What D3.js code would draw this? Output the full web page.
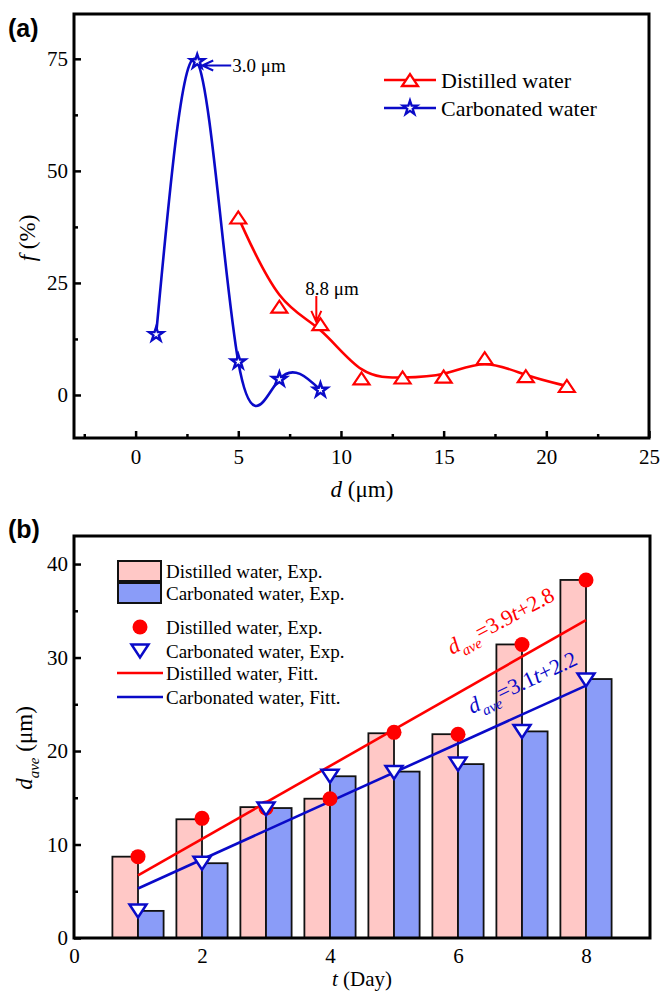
<!DOCTYPE html>
<html>
<head>
<meta charset="utf-8">
<script src="https://cdn.jsdelivr.net/npm/d3@7"></script>
<style>
body { margin: 0; background: #fff; }
text { font-family: "Liberation Serif", "Times New Roman", serif; fill: #000; }
</style>
</head>
<body>
<script>
// ---- panel (a): size distribution ----
var sizeDistilled = [5, 7, 9, 11, 13, 15, 17, 19, 21];
var freqDistilled = [39.6, 19.7, 15.8, 3.7, 3.9, 4.1, 8.2, 4.2, 2.0];
var sizeCarbonated = [1, 3, 5, 7, 9];
var freqCarbonated = [13.5, 74.4, 7.4, 3.5, 1.1];
var xTicksA = [0, 5, 10, 15, 20, 25];
var xMinorA = [-2.5, 2.5, 7.5, 12.5, 17.5, 22.5];
var yTicksA = [0, 25, 50, 75];
var yMinorA = [12.5, 37.5, 62.5];
var seriesNamesA = ["Distilled water", "Carbonated water"];

// ---- panel (b): average size vs time ----
var days = [1, 2, 3, 4, 5, 6, 7, 8];
var barDistilled = [8.7, 12.7, 14.0, 14.9, 21.9, 21.8, 31.4, 38.3];
var barCarbonated = [2.9, 8.0, 13.9, 17.3, 17.8, 18.6, 22.1, 27.7];
var dotDistilled = [8.7, 12.8, 13.9, 14.9, 22.0, 21.8, 31.4, 38.3];
var triCarbonated = [2.9, 8.0, 13.8, 17.3, 17.7, 18.6, 22.1, 27.6];
var fitDistilled = [3.9, 2.8];   // slope, intercept
var fitCarbonated = [3.1, 2.2];
var xTicksB = [0, 2, 4, 6, 8];
var yTicksB = [0, 10, 20, 30, 40];
var yMinorB = [5, 15, 25, 35];
var legendNamesB = ["Distilled water, Exp.", "Carbonated water, Exp.", "Distilled water, Exp.",
                    "Carbonated water, Exp.", "Distilled water, Fitt.", "Carbonated water, Fitt."];

var RED = "#ff0000", BLUE = "#0a0ac8", PINK = "#ffc8c6", LBLUE = "#8a9cf8";

var svg = d3.select("body").append("svg").attr("width", 663).attr("height", 992);

function styleAxis(g) {
  g.select(".domain").remove();
  g.selectAll(".tick line").attr("stroke", "#000").attr("stroke-width", 2.5);
  g.selectAll("text").attr("font-size", 21).attr("font-family", "Liberation Serif, serif");
}

function triPath(w, h, up) {
  var s = up ? 1 : -1;
  return "M" + (-w) + "," + (s * h / 2) + "L" + w + "," + (s * h / 2) + "L0," + (-s * h / 2) + "Z";
}

// ================= panel (a) =================
var xA = d3.scaleLinear().domain([-3, 25]).range([74, 649]);
var yA = d3.scaleLinear().domain([-9.6, 85]).range([438, 14]);

var gA = svg.append("g");

gA.append("g").attr("transform", "translate(0,438)")
  .call(d3.axisBottom(xA).tickValues(xTicksA).tickSize(-7).tickPadding(11))
  .call(styleAxis);
gA.append("g").attr("transform", "translate(0,438)")
  .call(d3.axisBottom(xA).tickValues(xMinorA).tickSize(-4).tickFormat(""))
  .call(styleAxis);
gA.append("g").attr("transform", "translate(74,0)")
  .call(d3.axisLeft(yA).tickValues(yTicksA).tickSize(-7).tickPadding(6))
  .call(styleAxis);
gA.append("g").attr("transform", "translate(74,0)")
  .call(d3.axisLeft(yA).tickValues(yMinorA).tickSize(-4).tickFormat(""))
  .call(styleAxis);

// distilled curve is a smoothed B-spline, carbonated is an interpolating spline
var redPts = sizeDistilled.map(function (d, i) { return [xA(d), yA(freqDistilled[i])]; });
var bluePts = sizeCarbonated.map(function (d, i) { return [xA(d), yA(freqCarbonated[i])]; });

gA.append("path").attr("d", d3.line().curve(d3.curveBasis)(redPts)).attr("fill", "none")
  .attr("stroke", RED).attr("stroke-width", 2.6);
gA.append("path").attr("d", d3.line().curve(d3.curveNatural)(bluePts)).attr("fill", "none")
  .attr("stroke", BLUE).attr("stroke-width", 2.6);

gA.selectAll("path.tri").data(redPts).enter().append("path").attr("class", "tri")
  .attr("transform", function (p) { return "translate(" + p + ")"; })
  .attr("d", triPath(8, 12, true))
  .attr("fill", "#fff").attr("stroke", RED).attr("stroke-width", 2.2);

var star = d3.symbol().type(d3.symbolStar).size(62);
gA.selectAll("path.star").data(bluePts).enter().append("path").attr("class", "star")
  .attr("transform", function (p) { return "translate(" + p + ")"; })
  .attr("d", star)
  .attr("fill", "#fff").attr("stroke", BLUE).attr("stroke-width", 2.4);

// annotations
var ann = gA.append("g");
var px = xA(3) + 5, py = yA(74.4) + 4;
ann.append("path").attr("d", "M" + (px + 29) + "," + py + "H" + px +
    "M" + (px + 11) + "," + (py - 5) + "L" + px + "," + py + "L" + (px + 11) + "," + (py + 5))
  .attr("fill", "none").attr("stroke", BLUE).attr("stroke-width", 2);
ann.append("text").attr("x", px + 30).attr("y", py).attr("dy", "0.35em")
  .attr("font-size", 19).text("3.0 μm");

var qx = xA(8.8), qy = yA(16.3);
ann.append("path").attr("d", "M" + qx + "," + (qy - 26) + "V" + qy +
    "M" + (qx - 5) + "," + (qy - 11) + "L" + qx + "," + qy + "L" + (qx + 5) + "," + (qy - 11))
  .attr("fill", "none").attr("stroke", RED).attr("stroke-width", 2);
ann.append("text").attr("x", qx - 11).attr("y", qy - 34).attr("dy", "0.35em")
  .attr("font-size", 19).text("8.8 μm");

// legend (a)
var legA = gA.append("g");
[RED, BLUE].forEach(function (c, i) {
  var ly = 80 + i * 28;
  legA.append("line").attr("x1", 384).attr("x2", 436).attr("y1", ly).attr("y2", ly)
    .attr("stroke", c).attr("stroke-width", 2.6);
  legA.append("path").attr("transform", "translate(410," + ly + ")")
    .attr("d", i === 0 ? triPath(8, 12, true) : star())
    .attr("fill", "#fff").attr("stroke", c).attr("stroke-width", 2.3);
  legA.append("text").attr("x", 441).attr("y", ly).attr("dy", "0.35em")
    .attr("font-size", 22).text(seriesNamesA[i]);
});

gA.append("rect").attr("x", 74).attr("y", 14).attr("width", 575).attr("height", 424)
  .attr("fill", "none").attr("stroke", "#000").attr("stroke-width", 3);

var tA = gA.append("text").attr("x", 362).attr("y", 497).attr("text-anchor", "middle").attr("font-size", 23);
tA.append("tspan").attr("font-style", "italic").text("d");
tA.append("tspan").text(" (μm)");
var fA = gA.append("text").attr("transform", "translate(35,238) rotate(-90)")
  .attr("text-anchor", "middle").attr("font-size", 23);
fA.append("tspan").attr("font-style", "italic").text("f");
fA.append("tspan").text(" (%)");

svg.append("text").attr("x", 8).attr("y", 37).attr("font-size", 25).attr("font-weight", "bold")
  .style("font-family", "Liberation Sans, Arial, sans-serif").text("(a)");

// ================= panel (b) =================
var xB = d3.scaleLinear().domain([0, 9]).range([74, 650]);
var yB = d3.scaleLinear().domain([0, 43]).range([938, 536]);
var gB = svg.append("g");

gB.append("g").attr("transform", "translate(0,938)")
  .call(d3.axisBottom(xB).tickValues(xTicksB).tickSize(0).tickPadding(10))
  .call(styleAxis);
gB.append("g").attr("transform", "translate(74,0)")
  .call(d3.axisLeft(yB).tickValues(yTicksB).tickSize(-7).tickPadding(6))
  .call(styleAxis);
gB.append("g").attr("transform", "translate(74,0)")
  .call(d3.axisLeft(yB).tickValues(yMinorB).tickSize(-4).tickFormat(""))
  .call(styleAxis);

var bw = xB(0.4) - xB(0);
gB.selectAll("rect.bd").data(days).enter().append("rect").attr("class", "bd")
  .attr("x", function (d) { return xB(d) - bw; })
  .attr("y", function (d, i) { return yB(barDistilled[i]); })
  .attr("width", bw)
  .attr("height", function (d, i) { return yB(0) - yB(barDistilled[i]); })
  .attr("fill", PINK).attr("stroke", "#111").attr("stroke-width", 1.8);
gB.selectAll("rect.bc").data(days).enter().append("rect").attr("class", "bc")
  .attr("x", function (d) { return xB(d); })
  .attr("y", function (d, i) { return yB(barCarbonated[i]); })
  .attr("width", bw)
  .attr("height", function (d, i) { return yB(0) - yB(barCarbonated[i]); })
  .attr("fill", LBLUE).attr("stroke", "#111").attr("stroke-width", 1.8);

// fit lines
[[fitDistilled, RED], [fitCarbonated, BLUE]].forEach(function (f) {
  var t0 = days[0], t1 = days[days.length - 1];
  gB.append("line")
    .attr("x1", xB(t0)).attr("y1", yB(f[0][0] * t0 + f[0][1]))
    .attr("x2", xB(t1)).attr("y2", yB(f[0][0] * t1 + f[0][1]))
    .attr("stroke", f[1]).attr("stroke-width", 2.6);
});

gB.selectAll("circle.dd").data(days).enter().append("circle").attr("class", "dd")
  .attr("cx", function (d) { return xB(d); })
  .attr("cy", function (d, i) { return yB(dotDistilled[i]); })
  .attr("r", 7.5).attr("fill", RED);
gB.selectAll("path.tc").data(days).enter().append("path").attr("class", "tc")
  .attr("transform", function (d, i) { return "translate(" + xB(d) + "," + yB(triCarbonated[i]) + ")"; })
  .attr("d", triPath(8.5, 13, false))
  .attr("fill", "#fff").attr("stroke", BLUE).attr("stroke-width", 2.5);

// equation labels
function eq(g, x, y, ang, color, f) {
  var t = g.append("text").attr("transform", "translate(" + x + "," + y + ") rotate(" + ang + ")")
    .attr("font-size", 22).style("fill", color);
  t.append("tspan").attr("font-style", "italic").text("d");
  t.append("tspan").attr("font-style", "italic").attr("font-size", 15).attr("dy", 7).text("ave");
  t.append("tspan").attr("dy", -7).text("=" + f[0]);
  t.append("tspan").attr("font-style", "italic").text("t");
  t.append("tspan").text("+" + f[1]);
}
eq(gB, 452, 655, -28, RED, fitDistilled);
eq(gB, 472, 714, -25, BLUE, fitCarbonated);

// legend (b)
var legB = gB.append("g");
[PINK, LBLUE].forEach(function (c, i) {
  legB.append("rect").attr("x", 118).attr("y", 561 + i * 22).attr("width", 43).attr("height", 20)
    .attr("fill", c).attr("stroke", "#111").attr("stroke-width", 2);
});
legB.append("circle").attr("cx", 140).attr("cy", 627).attr("r", 7.5).attr("fill", RED);
legB.append("path").attr("transform", "translate(140,651)").attr("d", triPath(8.5, 13, false))
  .attr("fill", "#fff").attr("stroke", BLUE).attr("stroke-width", 2.5);
legB.append("line").attr("x1", 117).attr("x2", 163).attr("y1", 673).attr("y2", 673)
  .attr("stroke", RED).attr("stroke-width", 2.6);
legB.append("line").attr("x1", 117).attr("x2", 163).attr("y1", 697).attr("y2", 697)
  .attr("stroke", BLUE).attr("stroke-width", 2.6);
var legY = [571, 593, 627, 651, 673, 697];
legendNamesB.forEach(function (n, i) {
  legB.append("text").attr("x", 166).attr("y", legY[i]).attr("dy", "0.35em")
    .attr("font-size", 19).text(n);
});

gB.append("rect").attr("x", 74).attr("y", 536).attr("width", 576).attr("height", 402)
  .attr("fill", "none").attr("stroke", "#000").attr("stroke-width", 3);

var tB = gB.append("text").attr("x", 362).attr("y", 986).attr("text-anchor", "middle").attr("font-size", 21);
tB.append("tspan").attr("font-style", "italic").text("t");
tB.append("tspan").text(" (Day)");
var dB = gB.append("text").attr("transform", "translate(32,748) rotate(-90)")
  .attr("text-anchor", "middle").attr("font-size", 23);
dB.append("tspan").attr("font-style", "italic").text("d");
dB.append("tspan").attr("font-style", "italic").attr("font-size", 15).attr("dy", 7).text("ave");
dB.append("tspan").attr("dy", -7).text(" (μm)");

svg.append("text").attr("x", 8).attr("y", 538).attr("font-size", 25).attr("font-weight", "bold")
  .style("font-family", "Liberation Sans, Arial, sans-serif").text("(b)");
</script>
</body>
</html>
